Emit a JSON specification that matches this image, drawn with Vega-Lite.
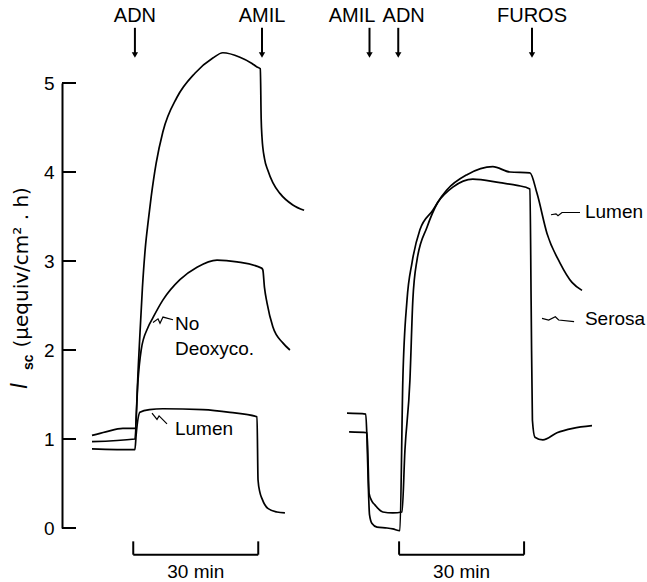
{
  "$schema": "https://vega.github.io/schema/vega-lite/v6.json",
  "width": 585,
  "height": 445,
  "autosize": {"type": "none"},
  "padding": {"left": 62, "top": 83, "right": 0, "bottom": 54},
  "background": "white",
  "config": {"view": {"stroke": null}},
  "encoding": {
    "x": {"field": "t", "type": "quantitative", "scale": {"domain": [0, 140.4], "nice": false, "zero": false}, "axis": null},
    "y": {"field": "v", "type": "quantitative", "scale": {"domain": [0, 5], "nice": false, "zero": false},
      "axis": {
        "values": [0, 1, 2, 3, 4, 5], "format": "d", "grid": false, "ticks": false,
        "domainColor": "black", "domainWidth": 2,
        "labelFont": "Liberation Sans", "labelFontSize": 19, "labelColor": "black", "labelPadding": 8,
        "title": "(μequiv/cm² . h)", "titleFont": "DejaVu Sans", "titleFontSize": 20, "titleFontWeight": "normal",
        "titleColor": "black", "titleAngle": -90, "titleAlign": "left", "titleBaseline": "alphabetic",
        "titleX": -35, "titleY": 264
      }
    }
  },
  "layer": [
    {
      "data": {"values": [
        {"s": "A", "t": 7.2, "v": 1.04}, {"s": "A", "t": 10.5, "v": 1.08}, {"s": "A", "t": 14.6, "v": 1.12}, {"s": "A", "t": 17.5, "v": 1.12},
        {"s": "A", "t": 18.4, "v": 1.9}, {"s": "A", "t": 19.3, "v": 2.7}, {"s": "A", "t": 20.0, "v": 3.15}, {"s": "A", "t": 20.7, "v": 3.45},
        {"s": "A", "t": 21.4, "v": 3.72}, {"s": "A", "t": 22.6, "v": 4.1}, {"s": "A", "t": 24.2, "v": 4.45},
        {"s": "A", "t": 27.6, "v": 4.84}, {"s": "A", "t": 31.9, "v": 5.11}, {"s": "A", "t": 36.2, "v": 5.28},
        {"s": "A", "t": 38.6, "v": 5.34}, {"s": "A", "t": 42.7, "v": 5.29}, {"s": "A", "t": 45.6, "v": 5.22}, {"s": "A", "t": 46.8, "v": 5.18},
        {"s": "A", "t": 47.6, "v": 5.16}, {"s": "A", "t": 47.8, "v": 4.6}, {"s": "A", "t": 48.0, "v": 4.39}, {"s": "A", "t": 48.6, "v": 4.15},
        {"s": "A", "t": 49.4, "v": 4.02}, {"s": "A", "t": 50.6, "v": 3.88}, {"s": "A", "t": 52.3, "v": 3.76}, {"s": "A", "t": 55.4, "v": 3.63},
        {"s": "A", "t": 58.1, "v": 3.57},
        {"s": "B", "t": 7.2, "v": 0.97}, {"s": "B", "t": 17.5, "v": 1.0}, {"s": "B", "t": 18.2, "v": 1.63}, {"s": "B", "t": 19.0, "v": 2.0},
        {"s": "B", "t": 20.6, "v": 2.25}, {"s": "B", "t": 21.8, "v": 2.36}, {"s": "B", "t": 24.2, "v": 2.56}, {"s": "B", "t": 28.3, "v": 2.79},
        {"s": "B", "t": 32.4, "v": 2.93}, {"s": "B", "t": 37.2, "v": 3.01}, {"s": "B", "t": 42.0, "v": 2.99}, {"s": "B", "t": 47.9, "v": 2.92},
        {"s": "B", "t": 48.2, "v": 2.9}, {"s": "B", "t": 48.6, "v": 2.7}, {"s": "B", "t": 49.2, "v": 2.53}, {"s": "B", "t": 50.6, "v": 2.26},
        {"s": "B", "t": 53.0, "v": 2.08}, {"s": "B", "t": 54.7, "v": 2.0},
        {"s": "C", "t": 7.2, "v": 0.89}, {"s": "C", "t": 17.5, "v": 0.88}, {"s": "C", "t": 17.8, "v": 1.05}, {"s": "C", "t": 18.7, "v": 1.3},
        {"s": "C", "t": 21.0, "v": 1.33}, {"s": "C", "t": 24.2, "v": 1.34}, {"s": "C", "t": 33.8, "v": 1.33}, {"s": "C", "t": 40.3, "v": 1.3},
        {"s": "C", "t": 46.8, "v": 1.25}, {"s": "C", "t": 47.05, "v": 0.54}, {"s": "C", "t": 47.5, "v": 0.4}, {"s": "C", "t": 48.0, "v": 0.33},
        {"s": "C", "t": 49.4, "v": 0.22}, {"s": "C", "t": 51.6, "v": 0.18}, {"s": "C", "t": 53.5, "v": 0.17},
        {"s": "Serosa", "t": 68.4, "v": 1.29}, {"s": "Serosa", "t": 72.9, "v": 1.28}, {"s": "Serosa", "t": 73.2, "v": 1.0}, {"s": "Serosa", "t": 73.5, "v": 0.5},
        {"s": "Serosa", "t": 73.8, "v": 0.15}, {"s": "Serosa", "t": 74.4, "v": 0.05}, {"s": "Serosa", "t": 75.6, "v": 0.01}, {"s": "Serosa", "t": 78.0, "v": 0.0},
        {"s": "Serosa", "t": 79.4, "v": -0.01}, {"s": "Serosa", "t": 81.1, "v": -0.03}, {"s": "Serosa", "t": 81.8, "v": 1.66}, {"s": "Serosa", "t": 82.8, "v": 2.56},
        {"s": "Serosa", "t": 84.0, "v": 2.98}, {"s": "Serosa", "t": 85.9, "v": 3.35}, {"s": "Serosa", "t": 89.0, "v": 3.57}, {"s": "Serosa", "t": 90.2, "v": 3.66},
        {"s": "Serosa", "t": 93.8, "v": 3.83}, {"s": "Serosa", "t": 98.6, "v": 3.92}, {"s": "Serosa", "t": 105.1, "v": 3.88}, {"s": "Serosa", "t": 109.2, "v": 3.85},
        {"s": "Serosa", "t": 112.3, "v": 3.81}, {"s": "Serosa", "t": 112.6, "v": 2.5}, {"s": "Serosa", "t": 112.9, "v": 1.21}, {"s": "Serosa", "t": 113.5, "v": 1.02},
        {"s": "Serosa", "t": 115.4, "v": 0.99}, {"s": "Serosa", "t": 118.8, "v": 1.07}, {"s": "Serosa", "t": 122.6, "v": 1.12}, {"s": "Serosa", "t": 127.2, "v": 1.15},
        {"s": "Lumen", "t": 68.9, "v": 1.08}, {"s": "Lumen", "t": 73.2, "v": 1.07}, {"s": "Lumen", "t": 73.45, "v": 0.76}, {"s": "Lumen", "t": 73.7, "v": 0.39},
        {"s": "Lumen", "t": 74.4, "v": 0.3}, {"s": "Lumen", "t": 75.1, "v": 0.26}, {"s": "Lumen", "t": 77.0, "v": 0.18}, {"s": "Lumen", "t": 79.4, "v": 0.17},
        {"s": "Lumen", "t": 81.6, "v": 0.18}, {"s": "Lumen", "t": 82.3, "v": 0.87}, {"s": "Lumen", "t": 83.5, "v": 1.66}, {"s": "Lumen", "t": 84.2, "v": 2.56},
        {"s": "Lumen", "t": 85.2, "v": 3.01}, {"s": "Lumen", "t": 87.6, "v": 3.38}, {"s": "Lumen", "t": 90.2, "v": 3.66}, {"s": "Lumen", "t": 92.4, "v": 3.8},
        {"s": "Lumen", "t": 97.2, "v": 3.97}, {"s": "Lumen", "t": 103.4, "v": 4.06}, {"s": "Lumen", "t": 107.5, "v": 4.0}, {"s": "Lumen", "t": 112.3, "v": 3.99},
        {"s": "Lumen", "t": 114.0, "v": 3.76}, {"s": "Lumen", "t": 116.4, "v": 3.31}, {"s": "Lumen", "t": 119.5, "v": 2.98}, {"s": "Lumen", "t": 122.4, "v": 2.76},
        {"s": "Lumen", "t": 124.8, "v": 2.67}
      ]},
      "mark": {"type": "line", "color": "black", "strokeWidth": 1.7, "interpolate": "monotone"},
      "encoding": {"detail": {"field": "s", "type": "nominal"}}
    },
    {
      "data": {"values": [
        {"s": "L1", "o": 1, "t": 21.6, "v": 1.29}, {"s": "L1", "o": 2, "t": 22.8, "v": 1.22}, {"s": "L1", "o": 3, "t": 23.3, "v": 1.26}, {"s": "L1", "o": 4, "t": 25.2, "v": 1.17},
        {"s": "N", "o": 1, "t": 21.84, "v": 2.31}, {"s": "N", "o": 2, "t": 23.04, "v": 2.35}, {"s": "N", "o": 3, "t": 23.52, "v": 2.3}, {"s": "N", "o": 4, "t": 24.24, "v": 2.37}, {"s": "N", "o": 5, "t": 26.64, "v": 2.34},
        {"s": "L2", "o": 1, "t": 117.36, "v": 3.52}, {"s": "L2", "o": 2, "t": 118.56, "v": 3.53}, {"s": "L2", "o": 3, "t": 119.04, "v": 3.51}, {"s": "L2", "o": 4, "t": 120.0, "v": 3.545}, {"s": "L2", "o": 5, "t": 124.32, "v": 3.545},
        {"s": "S", "o": 1, "t": 115.2, "v": 2.356}, {"s": "S", "o": 2, "t": 116.8, "v": 2.337}, {"s": "S", "o": 3, "t": 118.4, "v": 2.374}, {"s": "S", "o": 4, "t": 119.2, "v": 2.337}, {"s": "S", "o": 5, "t": 122.9, "v": 2.318}
      ]},
      "mark": {"type": "line", "color": "black", "strokeWidth": 1.2},
      "encoding": {"detail": {"field": "s", "type": "nominal"}, "order": {"field": "o", "type": "quantitative"}}
    },
    {
      "data": {"values": [
        {"t": 17.1, "t2": 47.1, "v": -0.3, "v2": -0.3}, {"t": 17.1, "t2": 17.1, "v": -0.3, "v2": -0.15}, {"t": 47.1, "t2": 47.1, "v": -0.3, "v2": -0.15},
        {"t": 80.9, "t2": 110.9, "v": -0.3, "v2": -0.3}, {"t": 80.9, "t2": 80.9, "v": -0.3, "v2": -0.15}, {"t": 110.9, "t2": 110.9, "v": -0.3, "v2": -0.15},
        {"t": 17.5, "t2": 17.5, "v": 5.62, "v2": 5.33}, {"t": 48.0, "t2": 48.0, "v": 5.62, "v2": 5.33}, {"t": 73.8, "t2": 73.8, "v": 5.62, "v2": 5.33},
        {"t": 80.7, "t2": 80.7, "v": 5.62, "v2": 5.33}, {"t": 112.8, "t2": 112.8, "v": 5.62, "v2": 5.33},
        {"t": 0, "t2": 3.36, "v": 0, "v2": 0}, {"t": 0, "t2": 3.36, "v": 1, "v2": 1}, {"t": 0, "t2": 3.36, "v": 2, "v2": 2},
        {"t": 0, "t2": 3.36, "v": 3, "v2": 3}, {"t": 0, "t2": 3.36, "v": 4, "v2": 4}, {"t": 0, "t2": 3.36, "v": 5, "v2": 5}
      ]},
      "mark": {"type": "rule", "color": "black", "strokeWidth": 2},
      "encoding": {"x2": {"field": "t2"}, "y2": {"field": "v2"}}
    },
    {
      "data": {"values": [{"t": 17.5, "v": 5.315}, {"t": 48.0, "v": 5.315}, {"t": 73.8, "v": 5.315}, {"t": 80.7, "v": 5.315}, {"t": 112.8, "v": 5.315}]},
      "mark": {"type": "point", "shape": "triangle-down", "filled": true, "color": "black", "size": 40, "opacity": 1}
    },
    {
      "data": {"values": [
        {"label": "ADN", "t": 17.5, "v": 5.685}, {"label": "AMIL", "t": 48.0, "v": 5.685}, {"label": "AMIL", "t": 69.6, "v": 5.685},
        {"label": "ADN", "t": 82.0, "v": 5.685}, {"label": "FUROS", "t": 112.8, "v": 5.685}
      ]},
      "mark": {"type": "text", "font": "Liberation Sans", "fontSize": 20, "color": "black", "align": "center", "baseline": "alphabetic"},
      "encoding": {"text": {"field": "label"}}
    },
    {
      "data": {"values": [{"label": "30 min", "t": 32.1, "v": -0.56}, {"label": "30 min", "t": 95.9, "v": -0.56}]},
      "mark": {"type": "text", "font": "Liberation Sans", "fontSize": 19, "color": "black", "align": "center", "baseline": "alphabetic"},
      "encoding": {"text": {"field": "label"}}
    },
    {
      "data": {"values": [
        {"label": "No", "t": 27.1, "v": 2.22}, {"label": "Deoxyco.", "t": 27.1, "v": 1.94}, {"label": "Lumen", "t": 27.1, "v": 1.04},
        {"label": "Lumen", "t": 125.5, "v": 3.48}, {"label": "Serosa", "t": 125.5, "v": 2.28}
      ]},
      "mark": {"type": "text", "font": "Liberation Sans", "fontSize": 19, "color": "black", "align": "left", "baseline": "alphabetic"},
      "encoding": {"text": {"field": "label"}}
    },
    {
      "data": {"values": [{"label": "I", "t": -8.4, "v": 1.56}]},
      "mark": {"type": "text", "font": "Liberation Sans", "fontSize": 23, "fontStyle": "italic", "color": "black", "angle": 270, "align": "left", "baseline": "alphabetic"},
      "encoding": {"text": {"field": "label"}}
    },
    {
      "data": {"values": [{"label": "sc", "t": -7.0, "v": 1.775}]},
      "mark": {"type": "text", "font": "Liberation Sans", "fontSize": 14, "fontWeight": "bold", "color": "black", "angle": 270, "align": "left", "baseline": "alphabetic"},
      "encoding": {"text": {"field": "label"}}
    }
  ]
}
